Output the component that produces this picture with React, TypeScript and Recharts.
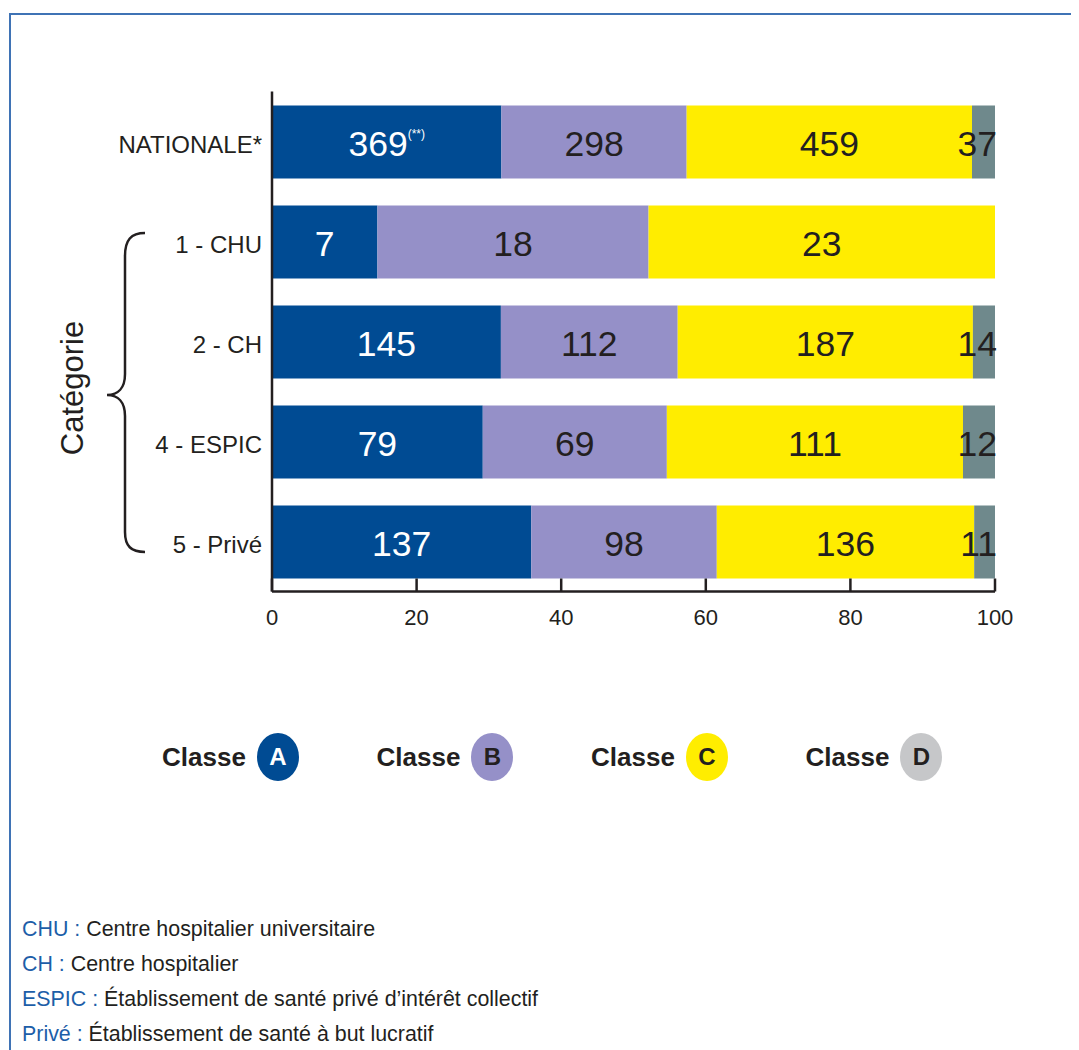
import React from 'react';
import { BarChart, Bar, XAxis, YAxis, LabelList } from 'recharts';

const categories = ['NATIONALE*', '1 - CHU', '2 - CH', '4 - ESPIC', '5 - Privé'];
const classA = [369, 7, 145, 79, 137];
const classB = [298, 18, 112, 69, 98];
const classC = [459, 23, 187, 111, 136];
const classD = [37, 0, 14, 12, 11];
const notesA = ['(**)', '', '', '', ''];
const xTicks = [0, 0.2, 0.4, 0.6, 0.8, 1];
const legendItems = ['A', 'B', 'C', 'D'];
const footnotes = [
  ['CHU', 'Centre hospitalier universitaire'],
  ['CH', 'Centre hospitalier'],
  ['ESPIC', 'Établissement de santé privé d’intérêt collectif'],
  ['Privé', 'Établissement de santé à but lucratif'],
];

const COLORS: Record<string, string> = { A: '#004b93', B: '#9590c8', C: '#ffed00', D: '#6f898c' };
const LABEL_COLORS: Record<string, string> = { A: '#ffffff', B: '#231f20', C: '#231f20', D: '#231f20' };
const LEGEND_COLORS: Record<string, string> = { A: '#004b93', B: '#9590c8', C: '#ffed00', D: '#c6c7c9' };
const LEGEND_TEXT: Record<string, string> = { A: '#ffffff', B: '#231f20', C: '#231f20', D: '#231f20' };
const FONT = '"Liberation Sans", Arial, Helvetica, sans-serif';
const INK = '#231f20';

const data = categories.map((name, i) => ({
  name,
  A: classA[i],
  B: classB[i],
  C: classC[i],
  D: classD[i],
}));

const makeLabel = (key: string) => (props: any) => {
  const { x, y, width, height, value, index } = props;
  if (!value) return null;
  const note = key === 'A' ? notesA[index] : '';
  const isEnd = key === 'D';
  const tx = isEnd ? Number(x) + Number(width) + 2 : Number(x) + Number(width) / 2;
  return (
    <text
      x={tx}
      y={Number(y) + Number(height) / 2 + 14}
      textAnchor={isEnd ? 'end' : 'middle'}
      fill={LABEL_COLORS[key]}
      fontSize={35.5}
      fontFamily={FONT}
    >
      {value}
      {note ? (
        <tspan fontSize={12} dy={-18}>
          {note}
        </tspan>
      ) : null}
    </text>
  );
};

const XTick = (props: any) => {
  const { x, y, payload } = props;
  return (
    <g>
      <line x1={x} x2={x} y1={y - 13} y2={y} stroke={INK} strokeWidth={2.5} />
      <text x={x} y={y + 33} textAnchor="middle" fill={INK} fontSize={22} fontFamily={FONT}>
        {Math.round(payload.value * 100)}
      </text>
    </g>
  );
};

const YTick = (props: any) => {
  const { x, y, payload } = props;
  return (
    <text x={x} y={y + 11} textAnchor="end" fill={INK} fontSize={24} fontFamily={FONT}>
      {payload.value}
    </text>
  );
};

export default function App() {
  return (
    <div style={{ position: 'relative', width: 1071, height: 1042, fontFamily: FONT, overflow: 'hidden' }}>
      <style>{`html,body{overflow:hidden;}`}</style>
      <div
        style={{
          position: 'absolute',
          left: 1,
          top: 5,
          width: 1075,
          height: 1050,
          borderTop: '2px solid #3f73b5',
          borderLeft: '2px solid #3f73b5',
        }}
      />
      <div style={{ position: 'absolute', left: 0, top: 0 }}>
        <BarChart
          width={1071}
          height={650}
          data={data}
          layout="vertical"
          stackOffset="expand"
          margin={{ top: 83.5, right: 84, bottom: 26.5, left: 0 }}
          barSize={73}
        >
          <XAxis
            type="number"
            domain={[0, 1]}
            ticks={xTicks}
            tickSize={0}
            tickMargin={0}
            tickLine={false}
            tick={<XTick />}
            height={40}
            axisLine={{ stroke: INK, strokeWidth: 2.5 }}
            allowDataOverflow
          />
          <YAxis
            type="category"
            dataKey="name"
            width={264}
            tickSize={0}
            tickMargin={10}
            tickLine={false}
            tick={<YTick />}
            axisLine={{ stroke: INK, strokeWidth: 2.5 }}
          />
          {['A', 'B', 'C', 'D'].map((k) => (
            <Bar key={k} dataKey={k} stackId="s" fill={COLORS[k]} isAnimationActive={false}>
              <LabelList dataKey={k} content={makeLabel(k)} />
            </Bar>
          ))}
        </BarChart>
      </div>
      <svg style={{ position: 'absolute', left: 0, top: 0 }} width={1071} height={1042}>
        <g transform="translate(-8,-8)">
          <path
            d="M145,233 C131,233 125,240 125,256 L125,374 C125,388 118,395 107,395 C118,395 125,402 125,416 L125,532 C125,546 131,552 145,552"
            fill="none"
            stroke={INK}
            strokeWidth={2.5}
          />
          <text
            x={0}
            y={0}
            transform="translate(72,388) rotate(-90)"
            textAnchor="middle"
            dominantBaseline="central"
            fontSize={31}
            fill={INK}
            fontFamily={FONT}
          >
            Catégorie
          </text>
        </g>
      </svg>
      {legendItems.map((k, i) => (
        <div
          key={k}
          style={{
            position: 'absolute',
            left: 154 + i * 214.5,
            top: 733 - 8,
            height: 48,
            display: 'flex',
            alignItems: 'center',
          }}
        >
          <span style={{ fontSize: 26, fontWeight: 700, color: INK, marginRight: 11 }}>Classe</span>
          <span
            style={{
              width: 42,
              height: 48,
              borderRadius: '50%',
              background: LEGEND_COLORS[k],
              color: LEGEND_TEXT[k],
              display: 'flex',
              alignItems: 'center',
              justifyContent: 'center',
              fontSize: 24,
              fontWeight: 700,
            }}
          >
            {k}
          </span>
        </div>
      ))}
      {footnotes.map(([abbr, text], i) => (
        <div
          key={abbr}
          style={{
            position: 'absolute',
            left: 14,
            top: 929 - 8 - 12 + i * 35,
            height: 24,
            lineHeight: '24px',
            fontSize: 21.4,
            color: INK,
            whiteSpace: 'nowrap',
          }}
        >
          <span style={{ color: '#1d5ea8' }}>{abbr} :</span> {text}
        </div>
      ))}
    </div>
  );
}
